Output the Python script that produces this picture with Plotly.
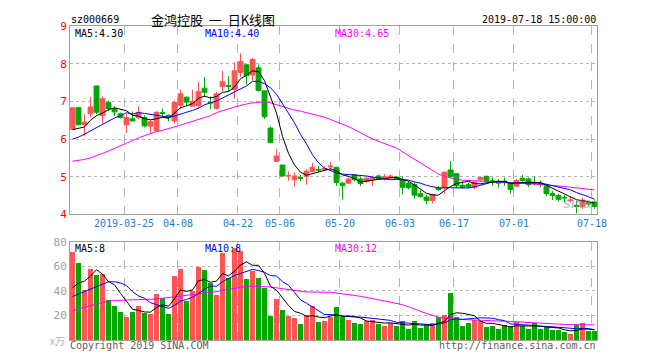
import plotly.graph_objects as go

dates = ["03-12","03-13","03-14","03-15","03-18","03-19","03-20","03-21","03-22","03-25",
         "03-26","03-27","03-28","03-29","04-01","04-02","04-03","04-04","04-08","04-09",
         "04-10","04-11","04-12","04-15","04-16","04-17","04-18","04-19","04-22","04-23",
         "04-24","04-25","04-26","04-29","04-30","05-06","05-07","05-08","05-09","05-10",
         "05-13","05-14","05-15","05-16","05-17","05-20","05-21","05-22","05-23","05-24",
         "05-27","05-28","05-29","05-30","05-31","06-03","06-04","06-05","06-06","06-10",
         "06-11","06-12","06-13","06-14","06-17","06-18","06-19","06-20","06-21","06-24",
         "06-25","06-26","06-27","06-28","07-01","07-02","07-03","07-04","07-05","07-08",
         "07-09","07-10","07-11","07-12","07-15","07-16","07-17","07-18"]

open_ = [6.26,6.83,6.38,6.67,7.41,6.62,6.97,6.81,6.67,6.38,
         6.54,6.57,6.57,6.34,6.22,6.70,6.63,6.48,6.90,7.11,
         6.87,6.89,7.35,6.98,6.81,7.39,7.42,7.31,7.77,7.97,
         7.70,7.89,7.28,6.29,5.41,5.31,5.02,4.92,4.97,5.01,
         5.14,5.19,5.18,5.26,5.25,4.83,4.83,5.05,4.94,4.88,
         4.92,5.02,4.96,4.96,4.99,4.92,4.82,4.79,4.55,4.46,
         4.37,4.70,4.70,5.18,5.08,4.77,4.79,4.72,4.92,5.01,
         4.89,4.88,4.88,4.81,4.75,4.96,4.94,4.85,4.83,4.75,
         4.55,4.50,4.45,4.37,4.24,4.21,4.31,4.33]
high = [6.84,6.85,6.66,7.11,7.41,7.13,7.02,6.87,6.70,6.67,
        6.73,6.87,6.63,6.50,6.74,6.81,6.65,7.02,7.31,7.13,
        7.31,7.52,7.65,7.13,7.25,7.81,7.67,8.04,8.28,7.99,
        8.15,7.98,7.28,6.33,5.74,5.31,5.14,5.11,5.05,5.20,
        5.37,5.28,5.28,5.40,5.26,4.86,4.98,5.07,5.00,4.98,
        5.03,5.05,5.07,5.06,5.01,5.00,4.88,4.85,4.64,4.52,
        4.53,4.75,5.14,5.41,5.08,4.89,4.85,4.86,5.00,5.03,
        4.98,4.94,4.98,4.83,4.94,5.05,4.98,5.01,4.90,4.80,
        4.62,4.55,4.51,4.47,4.36,4.44,4.34,4.37]
low = [6.24,6.36,6.07,6.58,6.66,6.41,6.74,6.61,6.55,6.16,
       6.47,6.52,6.31,6.16,6.20,6.57,6.47,6.41,6.79,6.87,
       6.87,6.81,7.11,6.79,6.78,7.26,7.26,7.07,7.65,7.44,
       7.55,7.26,6.53,5.88,5.40,5.01,4.89,4.73,4.89,4.79,
       5.12,5.12,5.15,5.16,4.76,4.40,4.81,4.88,4.75,4.84,
       4.76,4.92,4.90,4.92,4.92,4.53,4.66,4.42,4.45,4.27,
       4.29,4.62,4.55,4.97,4.70,4.69,4.70,4.66,4.88,4.86,
       4.76,4.72,4.76,4.55,4.73,4.86,4.73,4.77,4.72,4.49,
       4.38,4.35,4.32,4.31,4.03,4.14,4.22,4.15]
close = [6.83,6.38,6.45,6.85,6.71,7.07,6.81,6.72,6.57,6.57,
         6.48,6.71,6.35,6.46,6.71,6.68,6.57,6.97,7.20,6.98,
         7.00,7.26,7.24,6.96,7.20,7.52,7.40,7.81,8.06,7.68,
         8.11,7.29,6.59,5.91,5.55,5.02,5.03,5.02,4.96,5.15,
         5.25,5.18,5.22,5.28,4.85,4.76,4.94,4.92,4.82,4.96,
         4.98,4.95,5.00,5.02,4.95,4.72,4.71,4.51,4.47,4.37,
         4.53,4.66,5.12,5.01,4.76,4.72,4.73,4.86,4.98,4.90,
         4.86,4.83,4.87,4.66,4.90,4.90,4.79,4.82,4.79,4.55,
         4.50,4.40,4.44,4.38,4.21,4.38,4.28,4.21]

volume = [72.0,63.2,40.8,57.6,53.1,53.6,32.8,28.0,22.7,19.2,
          22.7,28.0,22.1,21.6,37.9,34.1,21.6,52.3,57.6,32.3,
          40.0,59.5,56.8,46.7,37.1,70.7,50.4,75.2,72.8,49.6,
          56.5,50.4,42.7,20.0,33.6,24.8,20.0,17.9,12.8,20.8,
          27.7,14.4,15.5,19.2,27.2,19.2,16.8,13.6,12.8,15.2,
          16.8,12.8,11.2,13.9,11.2,15.5,8.8,15.2,9.6,12.0,
          13.6,19.2,20.8,38.4,19.2,11.2,13.6,16.8,16.0,10.4,
          11.2,8.8,12.0,11.2,14.4,11.2,8.8,13.6,8.8,10.4,
          8.0,8.0,6.4,4.8,12.0,13.6,7.2,7.2]

ma5 = [6.25,6.28,6.32,6.50,6.62,6.69,6.78,6.83,6.78,6.75,
       6.63,6.61,6.54,6.51,6.54,6.58,6.55,6.68,6.83,6.88,
       6.94,7.08,7.14,7.09,7.13,7.24,7.26,7.38,7.60,7.69,
       7.81,7.79,7.55,7.12,6.69,6.07,5.62,5.31,5.12,5.04,
       5.08,5.11,5.15,5.21,5.15,5.05,5.01,4.95,4.86,4.88,
       4.92,4.93,4.94,4.98,4.98,4.93,4.88,4.78,4.67,4.56,
       4.52,4.51,4.63,4.74,4.82,4.86,4.88,4.82,4.81,4.84,
       4.86,4.88,4.88,4.83,4.83,4.83,4.82,4.82,4.84,4.77,
       4.69,4.62,4.54,4.45,4.39,4.36,4.34,4.30]
ma10 = [6.00,6.05,6.13,6.22,6.31,6.40,6.48,6.56,6.62,6.70,
        6.66,6.70,6.68,6.65,6.64,6.61,6.58,6.61,6.67,6.71,
        6.76,6.82,6.91,6.96,7.01,7.09,7.17,7.26,7.35,7.41,
        7.53,7.53,7.47,7.36,7.19,6.94,6.71,6.43,6.12,5.87,
        5.58,5.37,5.23,5.17,5.10,5.07,5.06,5.05,5.04,5.02,
        4.99,4.97,4.95,4.92,4.93,4.93,4.91,4.86,4.83,4.77,
        4.73,4.70,4.71,4.71,4.69,4.69,4.70,4.73,4.78,4.83,
        4.86,4.88,4.85,4.82,4.84,4.85,4.85,4.85,4.84,4.80,
        4.76,4.72,4.68,4.65,4.58,4.53,4.47,4.40]
ma30 = [5.41,5.43,5.46,5.50,5.55,5.62,5.68,5.74,5.82,5.89,
        5.97,6.03,6.09,6.15,6.20,6.23,6.27,6.32,6.37,6.42,
        6.47,6.53,6.58,6.62,6.70,6.76,6.80,6.85,6.90,6.93,
        6.96,6.98,6.99,6.96,6.91,6.86,6.81,6.77,6.74,6.70,
        6.66,6.62,6.58,6.52,6.46,6.40,6.33,6.25,6.16,6.08,
        6.00,5.94,5.88,5.83,5.76,5.66,5.56,5.46,5.36,5.28,
        5.17,5.07,5.01,4.96,4.93,4.91,4.90,4.89,4.88,4.88,
        4.87,4.86,4.85,4.84,4.84,4.83,4.82,4.81,4.80,4.78,
        4.77,4.76,4.74,4.72,4.70,4.68,4.66,4.65]

vma5 = [42.5,46.5,48.0,52.0,57.3,53.7,47.6,45.0,38.0,31.3,
        25.1,24.1,22.9,22.7,26.5,28.7,27.5,33.5,40.7,39.6,
        40.8,48.3,49.2,47.1,48.0,54.2,52.3,56.0,61.2,63.7,
        60.9,60.9,54.4,43.8,40.6,34.3,28.2,23.3,21.8,19.3,
        19.8,18.7,18.2,19.5,20.8,19.1,19.6,19.2,17.9,15.5,
        15.0,14.2,13.8,14.0,13.2,12.9,12.1,12.9,12.1,12.2,
        11.8,13.9,15.0,20.8,22.2,21.8,20.6,19.8,15.4,13.6,
        13.6,12.6,11.7,10.7,11.5,11.5,11.5,11.8,11.4,10.6,
        9.9,9.8,8.3,7.5,7.8,9.0,8.8,8.4]
vma10 = [35.5,37.5,39.5,42.0,44.0,46.0,47.5,47.5,46.5,44.3,
         39.4,35.9,34.0,30.4,28.9,26.9,25.8,28.2,31.7,33.1,
         34.8,37.9,41.4,43.9,43.8,47.5,50.3,52.6,54.2,55.9,
         57.6,56.6,55.2,52.5,52.2,47.6,44.6,38.9,32.8,30.0,
         27.1,23.5,20.8,20.7,20.1,19.5,19.2,18.7,18.7,18.2,
         17.1,16.9,16.5,16.0,14.4,14.0,13.2,13.4,13.1,12.7,
         12.4,13.0,14.0,16.5,17.2,16.8,17.3,17.4,18.1,17.9,
         17.7,16.6,15.8,13.1,12.6,12.6,12.1,11.8,11.1,11.1,
         10.7,10.7,10.1,9.5,9.2,9.5,9.3,8.4]
vma30 = [24.0,25.3,26.6,28.0,29.3,30.7,31.8,32.2,32.6,32.8,
         32.8,32.9,33.0,33.1,33.4,34.0,34.6,35.3,35.9,36.3,
         36.8,37.6,38.4,38.8,39.4,40.5,41.4,42.2,43.0,43.7,
         44.0,43.9,43.6,43.2,42.5,41.7,41.0,40.4,39.8,39.2,
         38.9,38.9,38.9,38.9,38.4,37.8,37.0,36.3,35.6,34.5,
         33.7,32.7,31.8,30.8,29.9,28.8,27.1,25.1,23.1,21.6,
         20.2,18.5,17.6,17.1,16.9,16.7,16.5,16.2,16.0,15.8,
         15.7,15.5,15.3,15.1,14.8,14.6,14.2,13.7,13.3,13.1,
         12.9,12.8,12.7,12.6,12.5,12.4,12.3,12.3]

tick_idx = [9, 18, 28, 35, 45, 55, 64, 74, 87]
tick_text = ["2019-03-25", "04-08", "04-22", "05-06", "05-20", "06-03", "06-17", "07-01", "07-18"]
price_ticks = [4, 5, 6, 7, 8, 9]
vol_ticks = [20, 40, 60, 80]

RED = "#ff5555"
GREEN = "#00a800"
MONO = "DejaVu Sans Mono"
GRID = "#b4b4b4"
FRAME = "#a0a0a0"

x = list(range(len(dates)))
vol_colors = [RED if c > o else GREEN for o, c in zip(open_, close)]

fig = go.Figure()
fig.add_trace(go.Candlestick(
    x=x, open=open_, high=high, low=low, close=close,
    increasing=dict(line=dict(color=RED, width=1), fillcolor=RED),
    decreasing=dict(line=dict(color=GREEN, width=1), fillcolor=GREEN),
    whiskerwidth=0, xaxis="x", yaxis="y", hoverinfo="skip", showlegend=False))
for series, col in [(ma30, "#ff00ff"), (ma10, "#0000ff"), (ma5, "#000000")]:
    fig.add_trace(go.Scatter(x=x, y=series, mode="lines", line=dict(color=col, width=1),
                             xaxis="x", yaxis="y", hoverinfo="skip", showlegend=False))

fig.add_trace(go.Bar(x=x, y=volume, marker=dict(color=vol_colors, line=dict(width=0)),
                     width=0.86, xaxis="x2", yaxis="y2", hoverinfo="skip", showlegend=False))
for series, col in [(vma30, "#ff00ff"), (vma10, "#0000ff"), (vma5, "#000000")]:
    fig.add_trace(go.Scatter(x=x, y=series, mode="lines", line=dict(color=col, width=1),
                             xaxis="x2", yaxis="y2", hoverinfo="skip", showlegend=False))

xr = [-0.42, len(x) - 1 + 0.42]
grid_vals = [i - 0.42 for i in tick_idx]
# the page body has an 8px margin, so the figure is 652x352 and sits at (8, 8)
fig.update_layout(
    width=652, height=352,
    margin=dict(l=62, r=63, t=12, b=20),
    paper_bgcolor="white", plot_bgcolor="white",
    boxgap=0.1, boxgroupgap=0.1,
    bargap=0,
    font=dict(family=MONO, size=10, color="#000"),
    xaxis=dict(domain=[0, 1], anchor="y", range=xr, tickmode="array",
               tickvals=grid_vals, ticktext=tick_text,
               tickfont=dict(family=MONO, size=10, color="#1a7fd0"),
               showgrid=True, gridcolor=GRID, griddash="dash", gridwidth=1,
               showline=True, linecolor=FRAME, linewidth=1, mirror=True,
               ticks="", zeroline=False, rangeslider=dict(visible=False)),
    yaxis=dict(domain=[0.4, 1.0], anchor="x", range=[4, 9], tickmode="array",
               tickvals=price_ticks, ticktext=[str(v) for v in price_ticks],
               tickfont=dict(family=MONO, size=11, color="#ff0000"),
               showgrid=True, gridcolor=GRID, griddash="dot", gridwidth=1,
               showline=True, linecolor=FRAME, linewidth=1, mirror=True,
               ticks="", zeroline=False),
    xaxis2=dict(domain=[0, 1], anchor="y2", range=xr, matches="x", tickmode="array",
                tickvals=grid_vals, showticklabels=False,
                showgrid=True, gridcolor=GRID, griddash="dash", gridwidth=1,
                showline=True, linecolor=FRAME, linewidth=1, mirror=True,
                ticks="", zeroline=False, rangeslider=dict(visible=False)),
    yaxis2=dict(domain=[0, 0.3125], anchor="x2", range=[0, 80], tickmode="array",
                tickvals=vol_ticks, ticktext=[str(v) for v in vol_ticks],
                tickfont=dict(family=MONO, size=11, color="#a0a0a0"),
                showgrid=True, gridcolor=GRID, griddash="dot", gridwidth=1,
                showline=True, linecolor=FRAME, linewidth=1, mirror=True,
                ticks="", zeroline=False),
)

# helpers take positions in window pixels (plot area spans x 70..597, y 20..340)
def px_x(px):
    return (px - 70) / 527.0

def px_y(py):
    return (340 - py) / 320.0

ann = []
def add_text(text, px, py, color="#000", size=10, anchor="left", family=MONO, **kw):
    ann.append(dict(text=text, x=px_x(px), y=px_y(py), xref="paper", yref="paper",
                    xanchor=anchor, yanchor="middle", showarrow=False,
                    font=dict(family=family, size=size, color=color), **kw))

add_text("sz000669", 69, 13)
add_text("金鸿控股\u00a0\u00a0一\u00a0\u00a0日K线图", 213, 13, size=13, anchor="center",
         family="Noto Sans CJK SC")
add_text("2019-07-18 15:00:00", 598, 13, anchor="right")
add_text(f"MA5:{ma5[-1]:.2f}", 73, 28)
add_text(f"MA10:{ma10[-1]:.2f}", 203, 28, color="#0000ff")
add_text(f"MA30:{ma30[-1]:.2f}", 333, 28, color="#ff00ff")
add_text(f"MA5:{vma5[-1]:.0f}", 73, 247)
add_text(f"MA10:{vma10[-1]:.0f}", 203, 247, color="#0000ff")
add_text(f"MA30:{vma30[-1]:.0f}", 333, 247, color="#ff00ff")
add_text("x万", 48, 340, color="#b0b0b0", family="Noto Sans CJK SC")
add_text("Copyright 2019 SINA.COM", 68, 346, color="#606060")
add_text("http://finance.sina.com.cn", 598, 346, color="#606060", anchor="right")
add_text("<b><i>sina</i></b>", 577, 200, color="rgba(150,150,150,0.55)", size=14,
         anchor="center", family="Arial")
fig.update_layout(annotations=ann)

fig.write_html("out.html")
